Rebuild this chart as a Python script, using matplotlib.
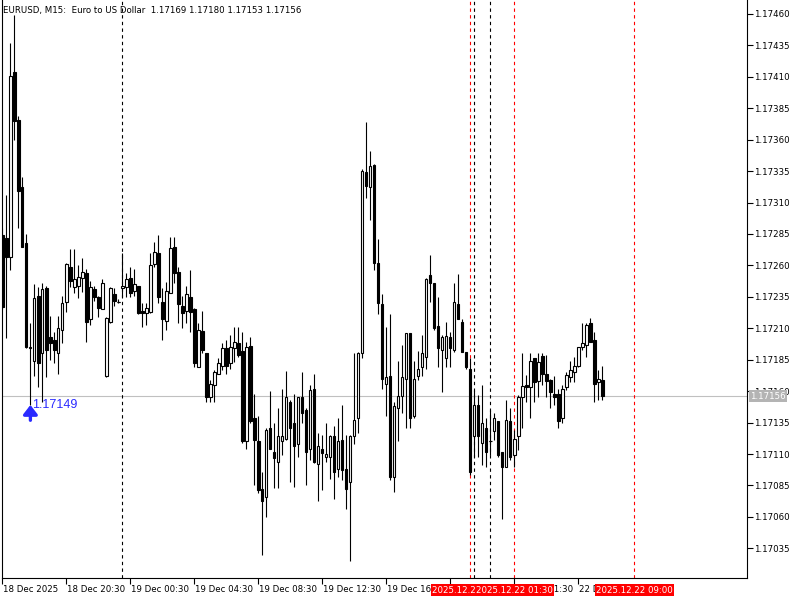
import matplotlib.pyplot as plt
import matplotlib.transforms as mtransforms
import numpy as np

symbol = "EURUSD"
period = "M15"
description = "Euro to US Dollar"

# M15 bars, 18 Dec 2025 16:30 .. 22 Dec 2025 08:00
opens = [1.17284, 1.17282, 1.17267, 1.17414, 1.17376, 1.17322, 1.17278, 1.17194, 1.17184, 1.17236,
         1.17190, 1.17242, 1.17203, 1.17201, 1.17190, 1.17209, 1.17231, 1.17259, 1.17243, 1.17244,
         1.17250, 1.17254, 1.17217, 1.17241, 1.17235, 1.17225, 1.17172, 1.17215, 1.17237, 1.17231,
         1.17242, 1.17243, 1.17250, 1.17240, 1.17244, 1.17224, 1.17222, 1.17223, 1.17261, 1.17270,
         1.17231, 1.17216, 1.17238, 1.17275, 1.17255, 1.17228, 1.17224, 1.17235, 1.17225, 1.17179,
         1.17208, 1.17190, 1.17155, 1.17165, 1.17174, 1.17180, 1.17194, 1.17182, 1.17194, 1.17198,
         1.17192, 1.17120, 1.17196, 1.17139, 1.17120, 1.17082, 1.17076, 1.17131, 1.17112, 1.17104,
         1.17120, 1.17122, 1.17151, 1.17135, 1.17118, 1.17155, 1.17145, 1.17114, 1.17162, 1.17102,
         1.17114, 1.17108, 1.17108, 1.17124, 1.17098, 1.17121, 1.17098, 1.17088, 1.17124, 1.17139,
         1.17190, 1.17334, 1.17322, 1.17340, 1.17262, 1.17229, 1.17166, 1.17172, 1.17092, 1.17147,
         1.17156, 1.17170, 1.17206, 1.17140, 1.17172, 1.17179, 1.17187, 1.17252, 1.17246, 1.17212,
         1.17193, 1.17186, 1.17203, 1.17193, 1.17229, 1.17215, 1.17191, 1.17178, 1.17124, 1.17149,
         1.17119, 1.17131, 1.17120, 1.17128, 1.17136, 1.17112, 1.17100, 1.17136, 1.17109, 1.17124,
         1.17155, 1.17165, 1.17163, 1.17186, 1.17168, 1.17188, 1.17174, 1.17169, 1.17158, 1.17158,
         1.17139, 1.17163, 1.17171, 1.17175, 1.17180, 1.17195, 1.17197, 1.17214, 1.17201, 1.17167,
         1.17169]
highs = [1.17290, 1.17316, 1.17437, 1.17459, 1.17379, 1.17330, 1.17285, 1.17214, 1.17245, 1.17243,
         1.17246, 1.17244, 1.17220, 1.17207, 1.17220, 1.17236, 1.17262, 1.17273, 1.17273, 1.17260,
         1.17266, 1.17257, 1.17248, 1.17244, 1.17236, 1.17249, 1.17219, 1.17243, 1.17242, 1.17233,
         1.17270, 1.17254, 1.17259, 1.17257, 1.17244, 1.17230, 1.17230, 1.17270, 1.17279, 1.17284,
         1.17242, 1.17247, 1.17283, 1.17283, 1.17259, 1.17236, 1.17244, 1.17256, 1.17226, 1.17214,
         1.17224, 1.17190, 1.17169, 1.17177, 1.17186, 1.17198, 1.17201, 1.17205, 1.17211, 1.17211,
         1.17207, 1.17199, 1.17203, 1.17158, 1.17140, 1.17096, 1.17131, 1.17160, 1.17135, 1.17147,
         1.17162, 1.17176, 1.17153, 1.17158, 1.17155, 1.17175, 1.17147, 1.17165, 1.17174, 1.17127,
         1.17125, 1.17135, 1.17125, 1.17132, 1.17139, 1.17149, 1.17125, 1.17125, 1.17190, 1.17191,
         1.17337, 1.17374, 1.17351, 1.17341, 1.17281, 1.17237, 1.17211, 1.17221, 1.17151, 1.17184,
         1.17197, 1.17206, 1.17206, 1.17184, 1.17192, 1.17205, 1.17250, 1.17268, 1.17246, 1.17235,
         1.17205, 1.17215, 1.17207, 1.17246, 1.17253, 1.17217, 1.17191, 1.17186, 1.17161, 1.17157,
         1.17165, 1.17139, 1.17145, 1.17143, 1.17136, 1.17112, 1.17153, 1.17147, 1.17129, 1.17157,
         1.17190, 1.17173, 1.17190, 1.17186, 1.17190, 1.17190, 1.17189, 1.17170, 1.17172, 1.17162,
         1.17165, 1.17175, 1.17184, 1.17187, 1.17195, 1.17214, 1.17214, 1.17218, 1.17207, 1.17177,
         1.17180]
lows = [1.17225, 1.17202, 1.17256, 1.17360, 1.17290, 1.17275, 1.17194, 1.17149, 1.17172, 1.17163,
        1.17151, 1.17171, 1.17185, 1.17182, 1.17174, 1.17198, 1.17223, 1.17243, 1.17238, 1.17234,
        1.17239, 1.17199, 1.17213, 1.17232, 1.17219, 1.17225, 1.17171, 1.17214, 1.17228, 1.17230,
        1.17235, 1.17235, 1.17235, 1.17236, 1.17221, 1.17211, 1.17213, 1.17222, 1.17259, 1.17230,
        1.17201, 1.17209, 1.17238, 1.17246, 1.17214, 1.17210, 1.17214, 1.17207, 1.17179, 1.17179,
        1.17190, 1.17151, 1.17151, 1.17151, 1.17174, 1.17177, 1.17174, 1.17178, 1.17183, 1.17187,
        1.17119, 1.17114, 1.17135, 1.17085, 1.17079, 1.17030, 1.17060, 1.17114, 1.17083, 1.17083,
        1.17109, 1.17121, 1.17088, 1.17084, 1.17108, 1.17135, 1.17085, 1.17105, 1.17103, 1.17073,
        1.17081, 1.17104, 1.17090, 1.17074, 1.17092, 1.17089, 1.17066, 1.17025, 1.17118, 1.17127,
        1.17186, 1.17314, 1.17296, 1.17256, 1.17221, 1.17162, 1.17140, 1.17089, 1.17080, 1.17120,
        1.17143, 1.17131, 1.17131, 1.17139, 1.17169, 1.17172, 1.17178, 1.17231, 1.17209, 1.17179,
        1.17159, 1.17179, 1.17179, 1.17191, 1.17217, 1.17191, 1.17178, 1.17093, 1.17108, 1.17108,
        1.17101, 1.17100, 1.17109, 1.17121, 1.17108, 1.17058, 1.17100, 1.17105, 1.17100, 1.17113,
        1.17131, 1.17151, 1.17139, 1.17151, 1.17155, 1.17165, 1.17155, 1.17147, 1.17149, 1.17131,
        1.17135, 1.17161, 1.17167, 1.17167, 1.17179, 1.17193, 1.17187, 1.17199, 1.17151, 1.17153,
        1.17153]
closes = [1.17227, 1.17267, 1.17411, 1.17375, 1.17319, 1.17275, 1.17195, 1.17195, 1.17234, 1.17182,
          1.17241, 1.17193, 1.17198, 1.17193, 1.17210, 1.17230, 1.17261, 1.17248, 1.17249, 1.17251,
          1.17255, 1.17215, 1.17243, 1.17235, 1.17226, 1.17246, 1.17218, 1.17242, 1.17232, 1.17231,
          1.17244, 1.17249, 1.17238, 1.17245, 1.17222, 1.17222, 1.17226, 1.17260, 1.17271, 1.17235,
          1.17217, 1.17240, 1.17274, 1.17254, 1.17229, 1.17222, 1.17237, 1.17223, 1.17182, 1.17209,
          1.17193, 1.17155, 1.17166, 1.17175, 1.17182, 1.17194, 1.17180, 1.17195, 1.17199, 1.17189,
          1.17120, 1.17195, 1.17136, 1.17121, 1.17081, 1.17073, 1.17129, 1.17114, 1.17107, 1.17124,
          1.17124, 1.17155, 1.17131, 1.17116, 1.17155, 1.17143, 1.17112, 1.17161, 1.17104, 1.17116,
          1.17111, 1.17110, 1.17124, 1.17096, 1.17120, 1.17097, 1.17082, 1.17124, 1.17137, 1.17190,
          1.17335, 1.17323, 1.17339, 1.17262, 1.17230, 1.17170, 1.17171, 1.17092, 1.17148, 1.17156,
          1.17171, 1.17206, 1.17139, 1.17170, 1.17178, 1.17190, 1.17249, 1.17246, 1.17210, 1.17194,
          1.17203, 1.17204, 1.17194, 1.17231, 1.17217, 1.17191, 1.17179, 1.17096, 1.17149, 1.17124,
          1.17135, 1.17112, 1.17120, 1.17139, 1.17109, 1.17100, 1.17137, 1.17108, 1.17122, 1.17155,
          1.17164, 1.17163, 1.17184, 1.17167, 1.17183, 1.17174, 1.17168, 1.17159, 1.17155, 1.17136,
          1.17162, 1.17173, 1.17177, 1.17180, 1.17195, 1.17198, 1.17213, 1.17199, 1.17166, 1.17170,
          1.17156]

time_labels = ["18 Dec 2025", "18 Dec 20:30", "19 Dec 00:30", "19 Dec 04:30", "19 Dec 08:30",
               "19 Dec 12:30", "19 Dec 16:30", "19 Dec 20:30", "22 Dec 01:30", "22 Dec 05:30"]
bars_per_label = 16

separator_bars = [30, 118, 122]          # black dashed lines
marker_bars = [117, 128, 158]            # red dashed lines
marker_texts = ["2025.12.21 00:00", "2025.12.22 01:30", "2025.12.22 09:00"]

arrow_bar = 7
price_ticks = [1.17035, 1.17060, 1.17085, 1.17110, 1.17135, 1.17160, 1.17185, 1.17210, 1.17235,
               1.17260, 1.17285, 1.17310, 1.17335, 1.17360, 1.17385, 1.17410, 1.17435, 1.17460]

small = dict(family=["DejaVu Sans Condensed", "DejaVu Sans"], size=6.2)

o = np.array(opens)
h = np.array(highs)
l = np.array(lows)
c = np.array(closes)
x = np.arange(len(o))
up = c >= o

fig = plt.figure(figsize=(8, 6), dpi=100)
ax = fig.add_axes([2 / 800, 22 / 600, 745 / 800, 578 / 600])
ax.set_xlim(-0.1, -0.1 + 745 / 4)
ax.set_ylim(1.170114, 1.174711)

# candles
ax.vlines(x, l, h, color="black", lw=0.8, zorder=2)
ax.bar(x[up], c[up] - o[up], bottom=o[up], width=0.55, color="white",
       edgecolor="black", linewidth=0.8, zorder=3)
ax.bar(x[~up], o[~up] - c[~up], bottom=c[~up], width=0.55, color="black",
       edgecolor="black", linewidth=0.8, zorder=3)
doji = np.abs(c - o) < 5e-6
ax.hlines(c[doji], x[doji] - 0.4, x[doji] + 0.4, color="black", lw=0.8, zorder=4)

# bid line and price label
bid = closes[-1]
ax.axhline(bid, color="#c0c0c0", lw=0.8, zorder=1)
ax.text(1.0045, bid, f"{bid:.5f}", transform=ax.get_yaxis_transform(), ha="left",
        va="center", color="white", zorder=5,
        bbox=dict(boxstyle="square,pad=0.15", fc="#b4b4b4", ec="none"), **small)

# vertical lines
for k in separator_bars:
    ax.axvline(k, color="black", lw=0.8, ls=(0, (3, 3)), zorder=1)
trans = mtransforms.blended_transform_factory(ax.transData, ax.transAxes)
for k, txt in zip(marker_bars, marker_texts):
    ax.axvline(k, color="red", lw=0.8, ls=(0, (3, 3)), zorder=1)
    ax.text(k, -0.021, txt, transform=trans, ha="center", va="center", color="white",
            zorder=6, clip_on=False,
            bbox=dict(boxstyle="square,pad=0.15", fc="red", ec="none"), **small)

# arrow at the low
ax.annotate("", xy=(arrow_bar, lows[arrow_bar]), xytext=(0, -11), textcoords="offset points",
            arrowprops=dict(arrowstyle="-|>,head_width=0.35,head_length=0.45", color="#2a2aff",
                            lw=2.4, mutation_scale=12, shrinkA=0, shrinkB=0), zorder=5)
ax.annotate(f"{lows[arrow_bar]:.5f}", xy=(arrow_bar, lows[arrow_bar]), xytext=(1, 0),
            textcoords="offset points", ha="left", va="center", color="#2a2aff",
            family="Liberation Sans", size=9, zorder=5)

# axes
ax.yaxis.tick_right()
ax.set_yticks(price_ticks)
ax.set_yticklabels([f"{p:.5f}" for p in price_ticks], **small)
ax.tick_params(axis="y", direction="out", length=4, width=0.8, pad=0.8, colors="black")
tick_pos = [i * bars_per_label for i in range(len(time_labels))]
ax.set_xticks(tick_pos)
ax.set_xticklabels(time_labels, ha="left", **small)
ax.tick_params(axis="x", direction="out", length=4, width=0.8, pad=1)
offset = mtransforms.ScaledTranslation(1 / 100, 0, fig.dpi_scale_trans)
for lab in ax.get_xticklabels():
    lab.set_transform(lab.get_transform() + offset)
ax.spines["top"].set_visible(False)
for s in ["left", "right", "bottom"]:
    ax.spines[s].set_linewidth(0.8)

fig.text(3 / 800, 1 - 10 / 600,
         f"{symbol}, {period}:  {description}  {opens[-1]:.5f} {highs[-1]:.5f} "
         f"{lows[-1]:.5f} {closes[-1]:.5f}", va="center", ha="left", **small)

fig.savefig("out.png", dpi=100, facecolor="white")
